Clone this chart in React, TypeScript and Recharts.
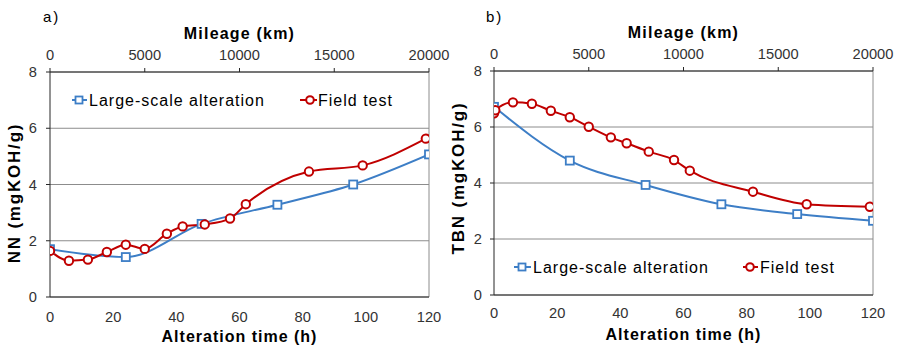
import React from 'react';
import { LineChart, Line, XAxis, YAxis, CartesianGrid, ReferenceLine, Legend, Label } from 'recharts';

// ---- data ----
const hoursTicks = [0, 20, 40, 60, 80, 100, 120];
const mileageTicks = [0, 5000, 10000, 15000, 20000];
const valueTicks = [0, 2, 4, 6, 8];
const seriesNames = ['Large-scale alteration', 'Field test'];

const nnLargeHours = [0, 24, 48, 72, 96, 120];
const nnLargeValues = [1.7, 1.42, 2.6, 3.28, 4.0, 5.07];
const nnFieldHours = [0, 6, 12, 18, 24, 30, 37, 42, 49, 57, 62, 82, 99, 119];
const nnFieldValues = [1.64, 1.29, 1.33, 1.6, 1.86, 1.71, 2.25, 2.51, 2.58, 2.79, 3.3, 4.46, 4.68, 5.63];

const tbnLargeHours = [0, 24, 48, 72, 96, 120];
const tbnLargeValues = [6.72, 4.8, 3.93, 3.24, 2.89, 2.65];
const tbnFieldHours = [0, 0.4, 6, 12, 18, 24, 30, 37, 42, 49, 57, 62, 82, 99, 119];
const tbnFieldValues = [6.49, 6.6, 6.88, 6.83, 6.58, 6.35, 6.01, 5.63, 5.42, 5.12, 4.82, 4.44, 3.69, 3.24, 3.15];

const toRows = (hs: number[], vs: number[]) => hs.map((h, i) => ({ h, v: vs[i] }));
// rows that only carry the mileage scale (no values, nothing drawn)
const mileageRows = mileageTicks.map((km) => ({ km, v: null as number | null }));

// ---- style ----
const BLUE = '#3d7ec6';
const RED = '#c00000';
const AXIS = '#262626';
const TICK = '#333333';
const GRID = '#8c8c8c';
const FONT = '"Liberation Sans", Arial, sans-serif';
const TICK_SIZE = 14.67;

const SquareDot = (props: any) => {
  const { cx, cy, index } = props;
  if (cx == null || cy == null) return <g key={`e${index}`} />;
  return <rect key={`s${index}`} x={cx - 4} y={cy - 4} width={8} height={8} fill="#fff" stroke={BLUE} strokeWidth={1.8} />;
};
const CircleDot = (props: any) => {
  const { cx, cy, index } = props;
  if (cx == null || cy == null) return <g key={`e${index}`} />;
  return <circle key={`c${index}`} cx={cx} cy={cy} r={4.2} fill="#fff" stroke={RED} strokeWidth={2} />;
};

type PanelProps = {
  width: number;
  yWidth: number;
  marginRight: number;
  topH: number;
  bottomH: number;
  tag: string;
  tagX: number;
  yTitle: string;
  yTitleX: number;
  yTitleY: number;
  topTitleY: number;
  bottomTitleY: number;
  yTickMargin: number;
  bottomTickMargin: number;
  large: { h: number; v: number }[];
  field: { h: number; v: number }[];
  legendY: number;
  legend: { lineFrom: number; lineTo: number; marker: number; text: number }[];
};

function Panel(p: PanelProps) {
  const plotCenter = p.yWidth + (p.width - p.yWidth - p.marginRight) / 2;
  const textStyle = { fontFamily: FONT };
  const tickStyle = { fill: TICK, fontSize: TICK_SIZE, fontFamily: FONT };
  return (
    <LineChart width={p.width} height={349} margin={{ top: 0, right: p.marginRight, bottom: 0, left: 0 }}>
      <CartesianGrid vertical={false} stroke={GRID} xAxisId="bottom" yAxisId="v" />
      <XAxis
        xAxisId="bottom"
        dataKey="h"
        type="number"
        domain={[0, 120]}
        ticks={hoursTicks}
        interval={0}
        orientation="bottom"
        height={p.bottomH}
        tickLine={false}
        tickSize={6}
        tickMargin={p.bottomTickMargin}
        axisLine={{ stroke: AXIS }}
        tick={tickStyle}
        allowDataOverflow
      >
        <Label
          content={() => (
            <text x={plotCenter} y={p.bottomTitleY} textAnchor="middle" fill="#000" fontSize={16} fontWeight="bold" style={{ ...textStyle, letterSpacing: '1px' }}>
              Alteration time (h)
            </text>
          )}
        />
      </XAxis>
      <XAxis
        xAxisId="top"
        dataKey="km"
        type="number"
        domain={[0, 20000]}
        ticks={mileageTicks}
        interval={0}
        orientation="top"
        height={p.topH}
        tickSize={4}
        tickMargin={8}
        tickLine={{ stroke: AXIS }}
        axisLine={{ stroke: AXIS }}
        tick={tickStyle}
        allowDataOverflow
      >
        <Label
          content={() => (
            <g>
              <text x={plotCenter} y={p.topTitleY} textAnchor="middle" fill="#000" fontSize={16} fontWeight="bold" style={{ ...textStyle, letterSpacing: '1.2px' }}>
                Mileage (km)
              </text>
              <text x={p.tagX} y={22} fill="#000" fontSize={15} style={{ ...textStyle, letterSpacing: '2px' }}>
                {p.tag}
              </text>
            </g>
          )}
        />
      </XAxis>
      <YAxis
        yAxisId="v"
        type="number"
        domain={[0, 8]}
        ticks={valueTicks}
        interval={0}
        width={p.yWidth}
        tickSize={4}
        tickMargin={p.yTickMargin}
        tickLine={{ stroke: AXIS }}
        axisLine={{ stroke: AXIS }}
        tick={tickStyle}
        allowDataOverflow
      >
        <Label
          content={() => (
            <text
              transform={`translate(${p.yTitleX},${p.yTitleY}) rotate(-90)`}
              textAnchor="middle"
              dominantBaseline="central"
              fill="#000"
              fontSize={17}
              fontWeight="bold"
              style={{ ...textStyle, letterSpacing: '1.8px' }}
            >
              {p.yTitle}
            </text>
          )}
        />
      </YAxis>
      <ReferenceLine xAxisId="bottom" yAxisId="v" x={120} stroke={GRID} />
      <Line
        xAxisId="top"
        yAxisId="v"
        data={mileageRows}
        dataKey="v"
        stroke="none"
        dot={false}
        activeDot={false}
        legendType="none"
        isAnimationActive={false}
      />
      <Line
        xAxisId="bottom"
        yAxisId="v"
        data={p.large}
        dataKey="v"
        name={seriesNames[0]}
        type="monotone"
        stroke={BLUE}
        strokeWidth={2}
        dot={<SquareDot />}
        isAnimationActive={false}
      />
      <Line
        xAxisId="bottom"
        yAxisId="v"
        data={p.field}
        dataKey="v"
        name={seriesNames[1]}
        type="monotone"
        stroke={RED}
        strokeWidth={2}
        dot={<CircleDot />}
        isAnimationActive={false}
      />
      <Legend
        layout="horizontal"
        verticalAlign="middle"
        align="center"
        wrapperStyle={{ left: 0, top: p.legendY - 12, width: p.width, height: 24 }}
        content={() => (
          <svg width={p.width} height={24} style={{ overflow: 'visible', display: 'block' }}>
            {p.legend.map((l, i) => (
              <g key={i}>
                <line x1={l.lineFrom} x2={l.lineTo} y1={12} y2={12} stroke={i === 0 ? BLUE : RED} strokeWidth={2} />
                {i === 0 ? (
                  <rect x={l.marker - 3.5} y={8.5} width={7} height={7} fill="#fff" stroke={BLUE} strokeWidth={1.8} />
                ) : (
                  <circle cx={l.marker} cy={12} r={3.8} fill="#fff" stroke={RED} strokeWidth={2} />
                )}
                <text x={l.text} y={18} fill="#000" fontSize={16} style={{ fontFamily: FONT, letterSpacing: '1px' }}>
                  {seriesNames[i]}
                </text>
              </g>
            ))}
          </svg>
        )}
      />
    </LineChart>
  );
}

export default function App() {
  return (
    <div style={{ position: 'absolute', left: 0, top: 0, width: 902, height: 349, background: '#fff' }}>
      <div style={{ position: 'absolute', left: 0, top: 0 }}>
        <Panel
          width={451}
          yWidth={50}
          marginRight={22}
          topH={72}
          bottomH={52}
          tag="a)"
          tagX={43}
          yTitle="NN (mgKOH/g)"
          yTitleX={14}
          yTitleY={193}
          topTitleY={39}
          bottomTitleY={342}
          yTickMargin={9}
          bottomTickMargin={9}
          large={toRows(nnLargeHours, nnLargeValues)}
          field={toRows(nnFieldHours, nnFieldValues)}
          legendY={100}
          legend={[
            { lineFrom: 72, lineTo: 87, marker: 79, text: 89 },
            { lineFrom: 300, lineTo: 317, marker: 310, text: 318 },
          ]}
        />
      </div>
      <div style={{ position: 'absolute', left: 450, top: 0 }}>
        <Panel
          width={452}
          yWidth={44}
          marginRight={29}
          topH={71}
          bottomH={54}
          tag="b)"
          tagX={36}
          yTitle="TBN (mgKOH/g)"
          yTitleX={8}
          yTitleY={178}
          topTitleY={38}
          bottomTitleY={340}
          yTickMargin={8}
          bottomTickMargin={7}
          large={toRows(tbnLargeHours, tbnLargeValues)}
          field={toRows(tbnFieldHours, tbnFieldValues)}
          legendY={267}
          legend={[
            { lineFrom: 64, lineTo: 81, marker: 72, text: 83 },
            { lineFrom: 293, lineTo: 308, marker: 300, text: 310 },
          ]}
        />
      </div>
    </div>
  );
}
